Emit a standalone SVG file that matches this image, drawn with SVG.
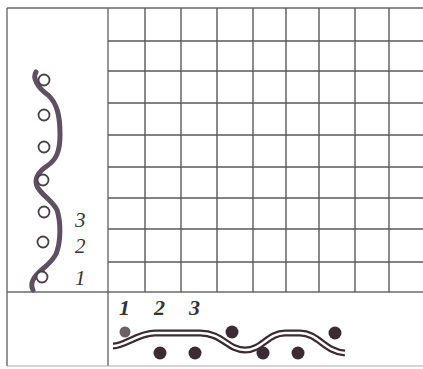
<svg xmlns="http://www.w3.org/2000/svg" width="423" height="369" viewBox="0 0 423 369">
<style>
.grid{stroke:#5a5a5a;stroke-width:1.4;fill:none}
.frame{stroke:#6a6a6a;stroke-width:1.4;fill:none}
.ring{fill:#fff;stroke:#4a4048;stroke-width:1.8}
.coil{fill:none;stroke:#5e5060;stroke-width:5;stroke-linecap:round}
.dot{fill:#3a2c32}
.lbl{font-family:"Liberation Serif",serif;font-style:italic;fill:#333}
</style>
<rect width="423" height="369" fill="#fff"/>
<g id="frame">
<path class="frame" d="M7,8 H423 M7,8 V366 M108,8 V366 M7,292 H423"/>
<path d="M7,366 H423" stroke="#aaa" stroke-width="1.2"/>
</g>
<g id="grid" class="grid">
<path d="M145,8 V292 M181,8 V292 M217,8 V292 M253,8 V292 M286,8 V292 M319,8 V292 M355,8 V292 M389,8 V292"/>
<path d="M108,41 H423 M108,71 H423 M108,103 H423 M108,135 H423 M108,167 H423 M108,198 H423 M108,229 H423 M108,262 H423"/>
</g>
<g id="vertical-coil">
<path class="coil" d="M36,72 C32,78 38,88 48,95 C58,104 60,118 60,135 C60,152 56,160 47,166 C38,172 34,178 37,186 C40,194 52,200 57,210 C61,222 61,242 56,254 C50,266 38,270 33,280 C31,284 32,288 33,290"/>
<circle class="ring" cx="44" cy="80" r="5.5"/>
<circle class="ring" cx="44" cy="115" r="5.5"/>
<circle class="ring" cx="44" cy="147" r="5.5"/>
<circle class="ring" cx="43" cy="180" r="5.5"/>
<circle class="ring" cx="44" cy="212" r="5.5"/>
<circle class="ring" cx="43" cy="242" r="5.5"/>
<circle class="ring" cx="42" cy="277" r="5.5"/>
<text class="lbl" x="75" y="227" font-size="21">3</text>
<text class="lbl" x="75" y="253" font-size="21">2</text>
<text class="lbl" x="75" y="285" font-size="21">1</text>
</g>
<g id="horizontal-coil">
<path d="M113,346 C125,346 138,333 155,333 L200,333 C222,333 228,350 245,350 C262,350 268,333 285,333 L300,333 C318,333 325,352 345,353" fill="none" stroke="#3a2c32" stroke-width="7"/>
<path d="M113,346 C125,346 138,333 155,333 L200,333 C222,333 228,350 245,350 C262,350 268,333 285,333 L300,333 C318,333 325,352 345,353" fill="none" stroke="#fff" stroke-width="2.4"/>
<circle class="dot" cx="125" cy="332" r="5.5" fill-opacity="0.75"/>
<circle class="dot" cx="160" cy="353" r="6.5"/>
<circle class="dot" cx="195" cy="353" r="6.5"/>
<circle class="dot" cx="232" cy="332" r="6.5"/>
<circle class="dot" cx="263" cy="353" r="6.5"/>
<circle class="dot" cx="298" cy="353" r="6.5"/>
<circle class="dot" cx="335" cy="333" r="6.5"/>
<text class="lbl" x="119" y="315" font-size="22" font-weight="bold">1</text>
<text class="lbl" x="154" y="315" font-size="22" font-weight="bold">2</text>
<text class="lbl" x="189" y="315" font-size="22" font-weight="bold">3</text>
</g>
</svg>
